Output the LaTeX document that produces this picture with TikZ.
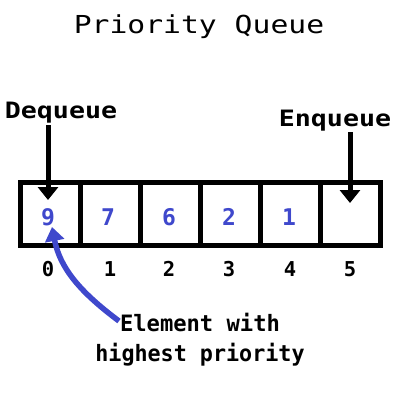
\documentclass[tikz,border=0pt]{standalone}
\usepackage{fontspec}
\usepackage{graphicx}
\usetikzlibrary{arrows.meta}
\newfontfamily\pix{DejaVu Sans Mono}
\definecolor{qblue}{RGB}{63,72,204}
\begin{document}
\begin{tikzpicture}[x=1pt,y=-1pt,
  cellbox/.style={draw=black,line width=5pt,minimum width=60pt,minimum height=63pt,inner sep=0pt,fill=white},
  lbl/.style={anchor=base,inner sep=0pt,font=\pix\bfseries\fontsize{20.5}{24}\selectfont},
  val/.style={anchor=base,inner sep=0pt,text=qblue,font=\pix\bfseries\fontsize{23}{26}\selectfont},
  idx/.style={anchor=base,inner sep=0pt,font=\pix\bfseries\fontsize{20.5}{24}\selectfont},
  blk/.style={line width=5pt,-{Triangle[width=20pt,length=13pt]}},
  blu/.style={draw=qblue,line width=5.5pt,-{Triangle[width=19pt,length=14pt]}}]
\useasboundingbox[fill=white] (0,0) rectangle (400,400);
\node[lbl,font=\pix\fontsize{22.5}{26}\selectfont] (title) at (199,33) {\scalebox{1.32}[1.1]{Priority Queue}};
\foreach \i/\x in {0/50,1/110,2/170,3/230,4/290,5/350}{
  \node[cellbox] (c\i) at (\x,214) {};
}
\foreach \i/\x/\v in {0/48/9,1/108/7,2/169/6,3/229/2,4/289/1}{
  \node[val] (v\i) at (\x,225) {\v};
}
\foreach \i/\x in {0/48,1/110,2/169,3/229,4/290,5/350}{
  \node[idx] (n\i) at (\x,276) {\i};
}
\draw[line width=5pt] (20,182.5) rectangle (380,245.5);
\node[lbl] (deq) at (61,118) {\scalebox{1.3}[1.1]{Dequeue}};
\node[lbl] (enq) at (335,126) {\scalebox{1.3}[1.1]{Enqueue}};
\node[lbl] (elem) at (200,331) {\scalebox{1.08}[1.1]{Element with}};
\node[lbl] (high) at (200,361) {\scalebox{1.06}[1.1]{highest priority}};
\coordinate (deqtip) at (48,200);
\coordinate (deqtop) at (48,125);
\coordinate (enqtip) at (350,203);
\coordinate (enqtop) at (350,132);
\draw[blk] (deqtop) -- (deqtip);
\draw[blk] (enqtop) -- (enqtip);
\coordinate (btail) at (119,321);
\coordinate (btip) at (52,227);
\draw[blu] (btail) .. controls (80,292) and (60,268) .. (btip);
\end{tikzpicture}
\end{document}
